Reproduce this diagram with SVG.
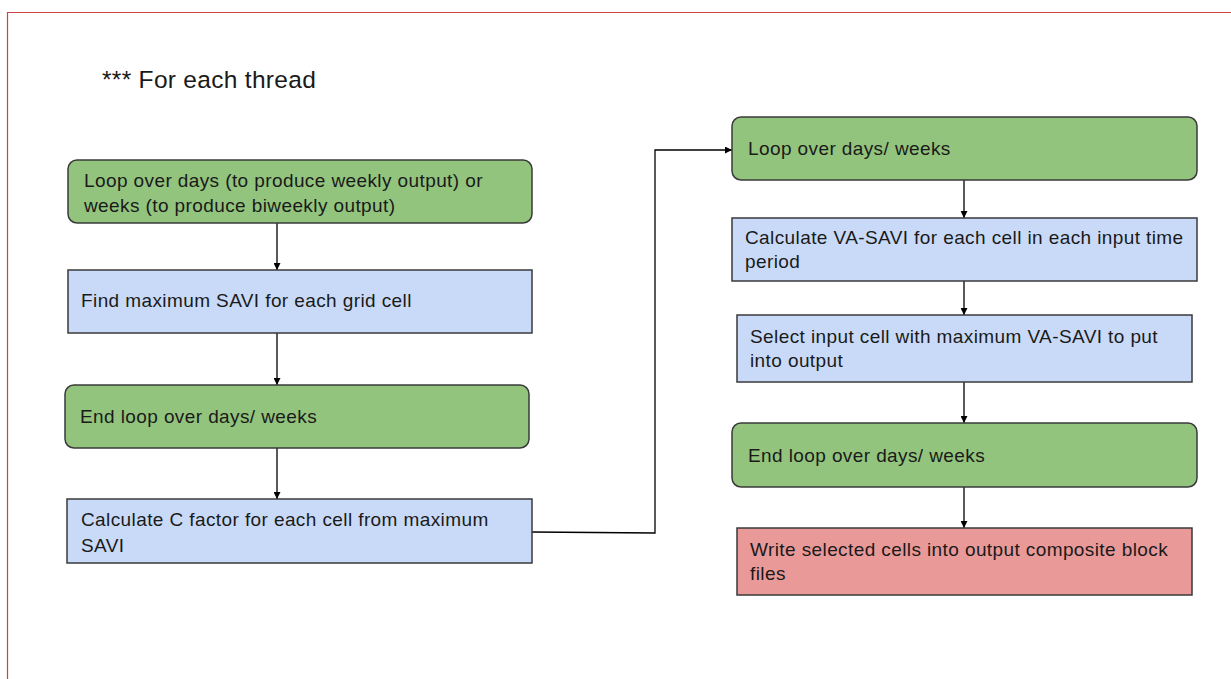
<svg xmlns="http://www.w3.org/2000/svg" width="1231" height="679" viewBox="0 0 1231 679">
  <defs>
    <marker id="arrow" viewBox="0 0 10 10" refX="10" refY="5" markerWidth="7" markerHeight="7" markerUnits="userSpaceOnUse" orient="auto">
      <path d="M0,0 L10,5 L0,10 z" fill="#000"/>
    </marker>
    <style>
      text { font-family: "Liberation Sans", Arial, sans-serif; font-size: 19px; letter-spacing: 0.4px; fill: #1a1a1a; }
      .title { font-size: 24.5px; letter-spacing: 0.3px; }
      .loop { fill: #93c47d; stroke: #3a3a3a; stroke-width: 1.5; }
      .step { fill: #c9daf8; stroke: #3a3a3a; stroke-width: 1.5; }
      .out { fill: #ea9999; stroke: #3a3a3a; stroke-width: 1.5; }
      .conn { fill: none; stroke: #000; stroke-width: 1.3; marker-end: url(#arrow); }
    </style>
  </defs>
  <rect width="1231" height="679" fill="#fff"/>
  <!-- page frame -->
  <path d="M7.5,679 V12.5 H1231" fill="none" stroke="#cc4444" stroke-width="1.2"/>

  <text class="title" x="102" y="88">*** For each thread</text>

  <g id="connectors">
    <line class="conn" x1="277" y1="223" x2="277" y2="270"/>
    <line class="conn" x1="277" y1="333" x2="277" y2="385"/>
    <line class="conn" x1="277" y1="448" x2="277" y2="499"/>
    <polyline class="conn" points="532,532 655,533 655,150 732,150"/>
    <line class="conn" x1="964" y1="180" x2="964" y2="218"/>
    <line class="conn" x1="964" y1="281" x2="964" y2="315"/>
    <line class="conn" x1="964" y1="382" x2="964" y2="423"/>
    <line class="conn" x1="964" y1="487" x2="964" y2="528"/>
  </g>

  <g id="loop-start-left">
    <rect class="loop" x="68" y="160" width="464" height="63" rx="9"/>
    <text x="84" y="187">Loop over days (to produce weekly output) or</text>
    <text x="84" y="212">weeks (to produce biweekly output)</text>
  </g>
  <g id="find-max-savi">
    <rect class="step" x="68" y="270" width="464" height="63"/>
    <text x="81" y="307">Find maximum SAVI for each grid cell</text>
  </g>
  <g id="loop-end-left">
    <rect class="loop" x="65" y="385" width="464" height="63" rx="9"/>
    <text x="80" y="423">End loop over days/ weeks</text>
  </g>
  <g id="calc-c-factor">
    <rect class="step" x="67" y="499" width="465" height="64"/>
    <text x="81" y="526">Calculate C factor for each cell from maximum</text>
    <text x="81" y="552">SAVI</text>
  </g>

  <g id="loop-start-right">
    <rect class="loop" x="732" y="117" width="465" height="63" rx="9"/>
    <text x="748" y="155">Loop over days/ weeks</text>
  </g>
  <g id="calc-va-savi">
    <rect class="step" x="732" y="218" width="465" height="63"/>
    <text x="745" y="244">Calculate VA-SAVI for each cell in each input time</text>
    <text x="745" y="268">period</text>
  </g>
  <g id="select-max">
    <rect class="step" x="737" y="315" width="455" height="67"/>
    <text x="750" y="343">Select input cell with maximum VA-SAVI to put</text>
    <text x="750" y="367">into output</text>
  </g>
  <g id="loop-end-right">
    <rect class="loop" x="732" y="423" width="465" height="64" rx="9"/>
    <text x="748" y="462">End loop over days/ weeks</text>
  </g>
  <g id="write-output">
    <rect class="out" x="737" y="528" width="455" height="67"/>
    <text x="750" y="556">Write selected cells into output composite block</text>
    <text x="750" y="580">files</text>
  </g>
</svg>
